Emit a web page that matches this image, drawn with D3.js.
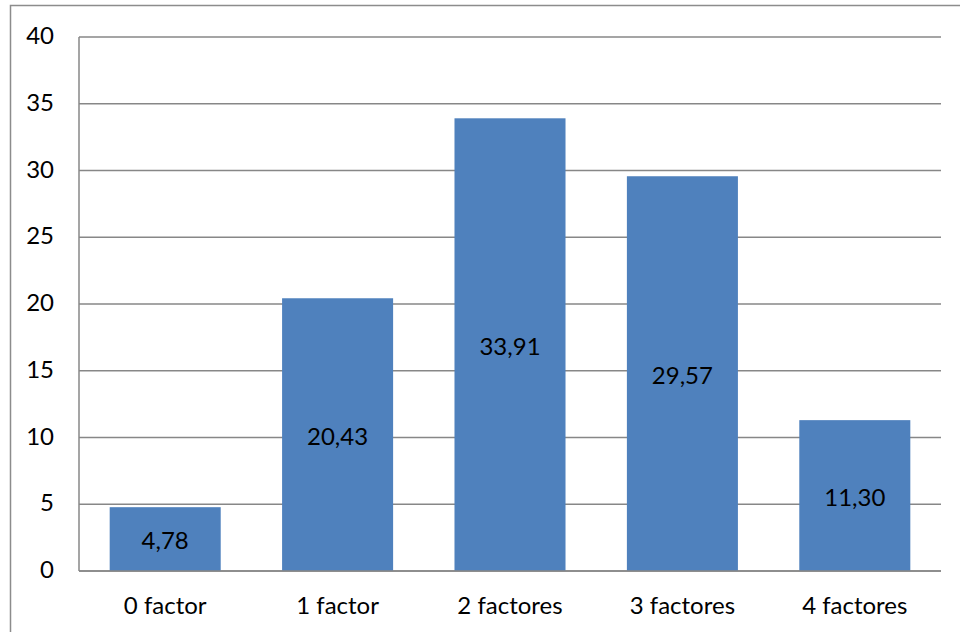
<!DOCTYPE html>
<html>
<head>
<meta charset="utf-8">
<script src="https://cdn.jsdelivr.net/npm/d3@7"></script>
<style>
  html, body { margin: 0; padding: 0; background: #fff; }
  svg { display: block; }
  text { font-family: Lato, "Open Sans", "Liberation Sans", sans-serif; fill: #000; }
</style>
</head>
<body>
<svg id="chart" width="960" height="632"></svg>
<script>
// Number of risk factors per patient (%)
const categories = ["0 factor", "1 factor", "2 factores", "3 factores", "4 factores"];
const values = [4.78, 20.43, 33.91, 29.57, 11.30];
const yTicks = [0, 5, 10, 15, 20, 25, 30, 35, 40];

const svg = d3.select("#chart");
const W = 960, H = 632;
const plotLeft = 79, plotRight = 941, plotTop = 37, plotBottom = 571;
const fontSize = 24;

// outer chart frame
svg.append("rect")
  .attr("x", 10.5).attr("y", 5.5)
  .attr("width", W).attr("height", H)
  .attr("fill", "none").attr("stroke", "#8c8c8c").attr("stroke-width", 1.5);

const x = d3.scaleBand()
  .domain(categories)
  .range([plotLeft, plotRight])
  .paddingInner(0.356)
  .paddingOuter(0.178);

const y = d3.scaleLinear().domain([0, 40]).range([plotBottom, plotTop]);

// horizontal gridlines
svg.append("g").selectAll("line")
  .data(yTicks)
  .join("line")
  .attr("x1", plotLeft).attr("x2", plotRight)
  .attr("y1", d => y(d)).attr("y2", d => y(d))
  .attr("stroke", "#878787").attr("stroke-width", 1.5);

// y axis line
svg.append("line")
  .attr("x1", plotLeft).attr("x2", plotLeft)
  .attr("y1", plotTop).attr("y2", plotBottom)
  .attr("stroke", "#878787").attr("stroke-width", 1.5);

// y tick labels
svg.append("g").selectAll("text")
  .data(yTicks)
  .join("text")
  .attr("x", 54)
  .attr("y", d => y(d))
  .attr("dy", "0.3em")
  .attr("text-anchor", "end")
  .attr("font-size", fontSize)
  .text(d => d);

// bars
svg.append("g").selectAll("rect")
  .data(values)
  .join("rect")
  .attr("x", (d, i) => x(categories[i]))
  .attr("width", x.bandwidth())
  .attr("y", d => y(d))
  .attr("height", d => y(0) - y(d))
  .attr("fill", "#4f81bd");

// redraw baseline over bars
svg.append("line")
  .attr("x1", plotLeft).attr("x2", plotRight)
  .attr("y1", y(0)).attr("y2", y(0))
  .attr("stroke", "#878787").attr("stroke-width", 1.5);

// value labels, centered in each bar
const fmt = v => d3.format(".2f")(v).replace(".", ",");
svg.append("g").selectAll("text")
  .data(values)
  .join("text")
  .attr("x", (d, i) => x(categories[i]) + x.bandwidth() / 2)
  .attr("y", d => (y(d) + y(0)) / 2)
  .attr("dy", "0.42em")
  .attr("text-anchor", "middle")
  .attr("font-size", fontSize)
  .text(d => fmt(d));

// category labels
svg.append("g").selectAll("text")
  .data(categories)
  .join("text")
  .attr("x", d => x(d) + x.bandwidth() / 2)
  .attr("y", 614)
  .attr("text-anchor", "middle")
  .attr("font-size", fontSize)
  .text(d => d);
</script>
</body>
</html>
